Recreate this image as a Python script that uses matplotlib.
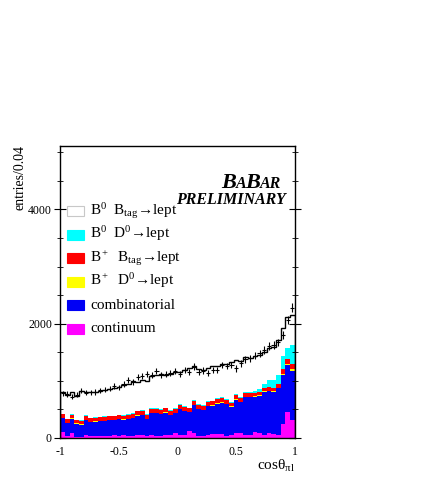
import numpy as np
import matplotlib
matplotlib.use("Agg")
import matplotlib.pyplot as plt
from matplotlib.patches import Rectangle

plt.rcParams["font.family"] = ["Liberation Serif", "DejaVu Serif"]
plt.rcParams["mathtext.fontset"] = "custom"
plt.rcParams["mathtext.rm"] = "Liberation Serif"
plt.rcParams["mathtext.it"] = "Liberation Serif:italic"
plt.rcParams["mathtext.bf"] = "Liberation Serif:bold"

# 50 bins of 0.04 in cos(theta_pi l)
bin_edges = np.linspace(-1, 1, 51)

continuum = [105, 35, 93, 25, 20, 50, 40, 35, 40, 35, 35, 45, 40, 45, 35, 40, 50, 50, 35, 55,
             40, 40, 55, 45, 90, 60, 50, 125, 90, 40, 40, 55, 70, 75, 75, 40, 55, 85, 90, 60,
             60, 105, 95, 60, 80, 75, 50, 240, 460, 320]
combinatorial = [245, 225, 247, 225, 215, 265, 240, 251, 252, 262, 274, 265, 287, 276, 297, 304, 340, 347, 297, 375,
                 397, 380, 388, 357, 347, 447, 417, 324, 487, 467, 450, 499, 496, 526, 543, 555, 493, 586, 534, 652,
                 652, 618, 646, 750, 740, 735, 820, 868, 815, 860]
bplus_d0 = [8] * 46 + [10, 12, 15, 35]
bplus_btag = [60, 58, 62, 55, 58, 62, 60, 58, 60, 62, 62, 60, 64, 62, 64, 66, 66, 68, 62, 68,
              66, 64, 66, 64, 64, 68, 66, 62, 70, 66, 64, 68, 66, 68, 70, 66, 64, 70, 66, 62,
              62, 62, 62, 62, 62, 62, 70, 80, 90, 75]
b0_d0 = [10, 8, 10, 8, 8, 10, 10, 10, 10, 10, 10, 10, 12, 12, 12, 12, 12, 12, 12, 12,
         14, 14, 14, 14, 14, 14, 14, 14, 14, 15, 15, 15, 15, 15, 15, 15, 15, 15, 15, 25,
         25, 25, 40, 60, 130, 140, 150, 230, 190, 340]
b0_btag = [375, 414, 385, 413, 509, 404, 439, 445, 456, 463, 463, 479, 489, 519, 531, 560, 502, 536, 589, 573,
           576, 610, 576, 634, 628, 564, 639, 698, 587, 610, 615, 574, 597, 574, 586, 615, 691, 609, 633, 616,
           599, 623, 602, 571, 549, 578, 615, 489, 554, 517]
data = [782, 770, 723, 760, 828, 793, 800, 805, 835, 845, 865, 910, 888, 945, 1015, 974, 1060, 1085, 1114, 1097,
        1178, 1103, 1114, 1143, 1178, 1114, 1190, 1160, 1248, 1150, 1180, 1131, 1190, 1190, 1277, 1260, 1277, 1219, 1306, 1376,
        1394, 1441, 1481, 1540, 1610, 1628, 1675, 1803, 2065, 2281]

components = [
    (continuum, "#ff00ff", "continuum"),
    (combinatorial, "#0000f5", "combinatorial"),
    (bplus_d0, "#ffff00", "B$^+$  D$^0$\u2192lept"),
    (bplus_btag, "#ff0000", "B$^+$  B$_{\\mathrm{tag}}$\u2192lept"),
    (b0_d0, "#00ffff", "B$^0$  D$^0$\u2192lept"),
    (b0_btag, "#ffffff", "B$^0$  B$_{\\mathrm{tag}}$\u2192lept"),
]

W, H = 436, 491
fig = plt.figure(figsize=(W / 100, H / 100), dpi=100)
ax = fig.add_axes([60.3 / W, 1 - 438 / H, (294.7 - 60.3) / W, (438 - 146) / H])

width = np.diff(bin_edges)
bottom = np.zeros(50)
for vals, col, lab in components:
    vals = np.array(vals, dtype=float)
    ax.bar(bin_edges[:-1], vals, width=width, bottom=bottom, align="edge",
           color=col, edgecolor="none", linewidth=0)
    bottom = bottom + vals

ax.stairs(bottom, bin_edges, color="black", linewidth=1.0)

centers = 0.5 * (bin_edges[:-1] + bin_edges[1:])
data = np.array(data, dtype=float)
ax.errorbar(centers, data, xerr=0.018, yerr=np.sqrt(data) * 1.6, fmt="none",
            ecolor="black", elinewidth=0.8, capsize=0)

ax.set_xlim(-1, 1)
ax.set_ylim(0, 5110)
ax.set_xticks([-1, -0.5, 0, 0.5, 1])
ax.set_xticklabels(["-1", "-0.5", "0", "0.5", "1"])
ax.set_yticks([0, 2000, 4000])
ax.set_yticks(np.arange(0, 5001, 500), minor=True)
ax.tick_params(axis="x", which="both", direction="in", length=0, labelsize=8.5, pad=6)
ax.tick_params(axis="y", which="major", direction="inout", length=8, labelsize=8.5,
               pad=2, right=True)
ax.tick_params(axis="y", which="minor", direction="inout", length=4, right=True)
for sp in ax.spines.values():
    sp.set_linewidth(1.0)

# legend drawn by hand, top entry first
entries = list(reversed(components))
for i, (vals, col, lab) in enumerate(entries):
    yc = 211 + 23.6 * i
    box = Rectangle((67.3 / W, 1 - (yc + 5) / H), 16.7 / W, 10 / H, transform=fig.transFigure,
                    facecolor=col, edgecolor="#c8c8c8" if col == "#ffffff" else col, linewidth=0.8)
    fig.patches.append(box)
    fig.text(90 / W, 1 - (yc + 3.5) / H, lab, fontsize=11, va="baseline", ha="left")

# BaBar logo, pieces placed one after another
renderer = fig.canvas.get_renderer()
logo = dict(fontweight="bold", fontstyle="italic", va="baseline", ha="left")
xpos = 221.0
for piece, size in [("B", 16), ("A", 11.5), ("B", 16), ("AR", 11.5)]:
    t = fig.text(xpos / W, 1 - 188.5 / H, piece, fontsize=size, **logo)
    xpos = t.get_window_extent(renderer).x1 - 0.5
fig.text(286 / W, 1 - 204.5 / H, "PRELIMINARY", fontsize=11.5, fontweight="bold",
         fontstyle="italic", va="baseline", ha="right")

fig.text(20 / W, 1 - 145 / H, "entries/0.04", rotation=90, fontsize=10, ha="center", va="top")
fig.text(294.7 / W, 1 - 470 / H, "cos\u03b8$_{\\mathrm{\u03c0l}}$", fontsize=11,
         ha="right", va="baseline")

fig.savefig("out.png", dpi=100)
